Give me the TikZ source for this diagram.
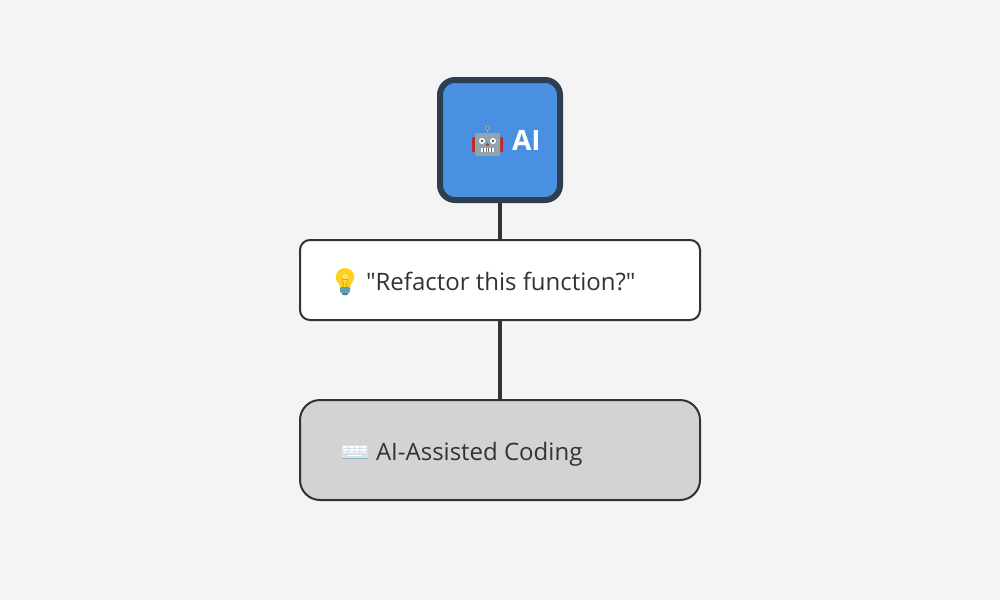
\documentclass[tikz,border=0pt]{standalone}
\usepackage{fontspec}
\setmainfont{Open Sans}
\newfontfamily\straightquotes{Open Sans}
\definecolor{pagebg}{HTML}{F4F4F4}
\definecolor{ink}{HTML}{333333}
\definecolor{navy}{HTML}{2C3E50}
\definecolor{sky}{HTML}{4A90E2}
\definecolor{panel}{HTML}{D3D3D3}
\definecolor{robotbody}{HTML}{90A4AE}
\definecolor{robotred}{HTML}{C62828}
\definecolor{bulbglass}{HTML}{FFD21F}
\definecolor{bulbwire}{HTML}{E8A317}
\definecolor{bulbbase}{HTML}{5F9FB5}
\definecolor{bulbbasedark}{HTML}{457F95}
\definecolor{keyframe}{HTML}{D5E3E8}
\definecolor{keyedge}{HTML}{8FB4C2}
\tikzset{
  link/.style={draw=ink,line width=4pt},
  label/.style={anchor=base west,inner sep=0pt,outer sep=0pt,text=ink,font=\fontsize{24}{28}\selectfont},
}
\begin{document}
\begin{tikzpicture}[x=1pt,y=-1pt]
\useasboundingbox (0,0) rectangle (1000,610);
\fill[white] (0,0) rectangle (1000,610);
\fill[pagebg] (0,0) rectangle (1000,600);

% Boxes, each centred on the vertical axis
\node[draw=navy,fill=sky,line width=6pt,rounded corners=15pt,minimum width=120pt,minimum height=120pt,inner sep=0pt,outer sep=3pt] (ai) at (500,140) {};
\node[draw=ink,fill=white,line width=2pt,rounded corners=10pt,minimum width=400pt,minimum height=80pt,inner sep=0pt,outer sep=1pt] (prompt) at (500,280) {};
\node[draw=ink,fill=panel,line width=2pt,rounded corners=20pt,minimum width=400pt,minimum height=100pt,inner sep=0pt,outer sep=1pt] (coding) at (500,450) {};

% Connectors
\draw[link] (ai.south) -- (prompt.north);
\draw[link] (prompt.south) -- (coding.north);

% Box captions
\node[label,text=white,font=\bfseries\fontsize{28}{32}\selectfont] (ailabel) at (512,150) {AI};
\node[label] (promptlabel) at (366,290) {\straightquotes "Refactor this function?"};
\node[label] (codinglabel) at (376,460) {AI-Assisted Coding};

% Robot face
\begin{scope}[shift={(487.5,142)}]
  \fill[robotbody] (-0.7,-12) rectangle (0.7,-8);
  \fill[robotbody] (0,-14) circle (2.4);
  \fill[robotred] (0,-14) circle (1);
  \fill[robotred,rounded corners=1pt] (-15.5,-5) rectangle (-11,10);
  \fill[robotred,rounded corners=1pt] (11,-5) rectangle (15.5,10);
  \fill[robotbody,rounded corners=1.5pt] (-12.5,-9) rectangle (12.5,14);
  \fill[white] (-5.5,-1) circle (3);
  \fill[white] (5.5,-1) circle (3);
  \fill[black!70] (-5.5,-1) circle (1.3);
  \fill[black!70] (5.5,-1) circle (1.3);
  \fill[robotred] (-2,3.5) -- (2,3.5) -- (0,0.5) -- cycle;
  \fill[white] (-6.7,5.7) rectangle (6.7,10);
  \foreach \u in {-4,-1.3,1.3,4} \draw[black!60,line width=.7pt] (\u,5.7) -- (\u,10);
\end{scope}

% Light bulb
\begin{scope}[shift={(345,281)}]
  \fill[bulbglass] (0,-13) .. controls (-5.5,-13) and (-9.3,-8.5) .. (-9.3,-3.5) .. controls (-9.3,0.5) and (-5.3,2.5) .. (-5,6) -- (5,6) .. controls (5.3,2.5) and (9.3,0.5) .. (9.3,-3.5) .. controls (9.3,-8.5) and (5.5,-13) .. (0,-13) -- cycle;
  \fill[white,opacity=.35] (0,-3.5) circle (3.6);
  \draw[bulbwire,line width=.9pt] (-2.6,-3) -- (-1.5,6) (2.6,-3) -- (1.5,6) (-2.6,-1.5) -- (2.6,-1.5);
  \fill[bulbbase,rounded corners=.8pt] (-5,6) rectangle (5,11.5);
  \fill[bulbbasedark] (-4,11.5) -- (4,11.5) -- (2,14) -- (-2,14) -- cycle;
\end{scope}

% Keyboard
\begin{scope}[shift={(354.7,452)}]
  \fill[keyedge] (-13,-7) rectangle (13,7);
  \fill[keyframe] (-13,-7) rectangle (13,5.5);
  \foreach \r in {-5,-2.3,0.4} \draw[white,line width=1.7pt,dash pattern=on 1.9pt off .5pt] (-12,\r) -- (12,\r);
  \draw[white,line width=1.7pt] (-7,3.4) -- (7,3.4);
\end{scope}
\end{tikzpicture}
\end{document}
